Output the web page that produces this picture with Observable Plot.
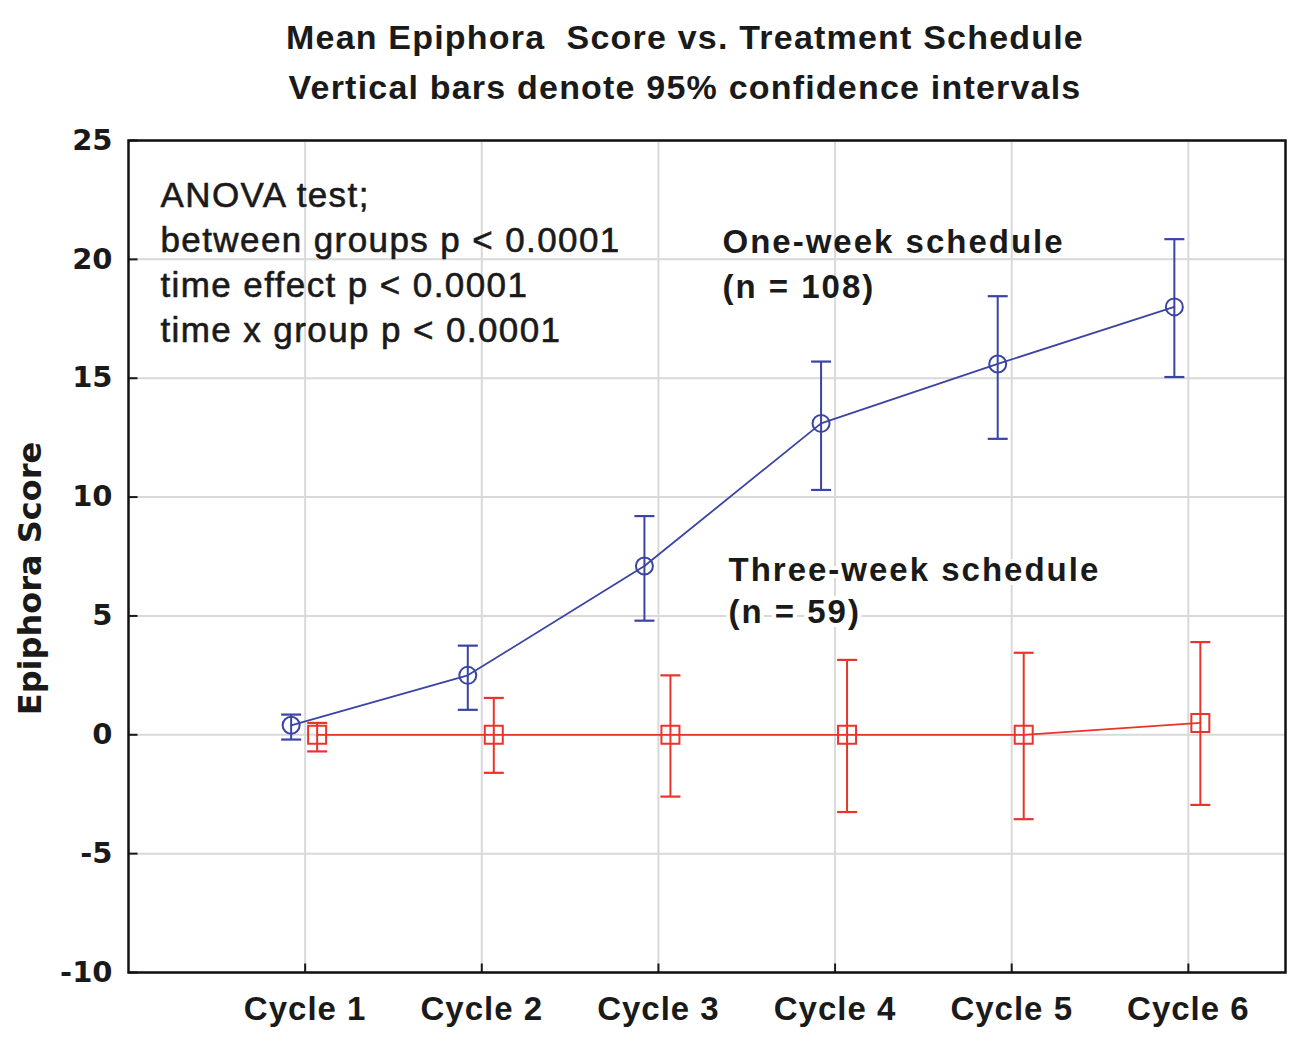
<!DOCTYPE html>
<html><head><meta charset="utf-8">
<script src="https://cdn.jsdelivr.net/npm/d3@7"></script>
<script src="https://cdn.jsdelivr.net/npm/@observablehq/plot@0.6"></script>
<style>
body{margin:0;background:#fff;}
#title{height:105px;width:1310px;box-sizing:border-box;padding-left:60px;padding-top:12px;text-align:center;font-family:"Liberation Sans",Arial,sans-serif;font-weight:bold;font-size:34px;letter-spacing:1.2px;color:#1a1a1a;overflow:hidden;}
#title div{height:50px;line-height:50px;white-space:nowrap;}
</style></head><body>
<div id="title"><div>Mean Epiphora&nbsp; Score vs. Treatment Schedule</div><div>Vertical bars denote 95% confidence intervals</div></div>
<div id="chart"></div>
<script>
const cycles = [1, 2, 3, 4, 5, 6];
const cycleLabels = ["Cycle 1", "Cycle 2", "Cycle 3", "Cycle 4", "Cycle 5", "Cycle 6"];
const oneWeekMean = [0.4, 2.5, 7.1, 13.1, 15.6, 18.0];
const oneWeekLow  = [-0.2, 1.05, 4.8, 10.3, 12.45, 15.05];
const oneWeekHigh = [0.85, 3.75, 9.2, 15.7, 18.45, 20.85];
const threeWeekMean = [0, 0, 0, 0, 0, 0.5];
const threeWeekLow  = [-0.7, -1.6, -2.6, -3.25, -3.55, -2.95];
const threeWeekHigh = [0.5, 1.55, 2.5, 3.15, 3.45, 3.9];
const yTicks = [-10, -5, 0, 5, 10, 15, 20, 25];
const annotation = "ANOVA test;\nbetween groups p < 0.0001\ntime effect p < 0.0001\ntime x group p < 0.0001";
const oneWeekLabel = "One-week schedule\n(n = 108)";
const threeWeekLabel = "Three-week schedule\n(n = 59)";

const oneWeek = cycles.map((c, i) => ({cycle: c, mean: oneWeekMean[i], low: oneWeekLow[i], high: oneWeekHigh[i]}));
const threeWeek = cycles.map((c, i) => ({cycle: c, mean: threeWeekMean[i], low: threeWeekLow[i], high: threeWeekHigh[i]}));

const ink = "#1a1a1a";
const blue = "#3a44a3";
const red = "#e8342a";
const cap = {draw(ctx) { ctx.moveTo(-10, 0); ctx.lineTo(10, 0); }};
const tickRight = {draw(ctx) { ctx.moveTo(0, 0); ctx.lineTo(9, 0); }};
const tickUp = {draw(ctx) { ctx.moveTo(0, 0); ctx.lineTo(0, -9); }};
const sq = {draw(ctx) { ctx.rect(-9, -9, 18, 18); }};

function series(data, color, dx, symbol, r) {
  return [
    Plot.ruleX(data, {x: "cycle", y1: "low", y2: "high", stroke: color, strokeWidth: 2, dx}),
    Plot.dot(data, {x: "cycle", y: "low", symbol: cap, stroke: color, fill: "none", strokeWidth: 2.2, dx}),
    Plot.dot(data, {x: "cycle", y: "high", symbol: cap, stroke: color, fill: "none", strokeWidth: 2.2, dx}),
    Plot.line(data, {x: "cycle", y: "mean", stroke: color, strokeWidth: 1.8, dx}),
    Plot.dot(data, {x: "cycle", y: "mean", symbol, r, stroke: color, fill: "none", strokeWidth: 2, dx})
  ];
}

const chart = Plot.plot({
  width: 1310,
  height: 953,
  marginTop: 35,
  marginBottom: 86,
  marginLeft: 128,
  marginRight: 25,
  style: {background: "#fff", color: ink},
  x: {type: "linear", domain: [0, 6.55]},
  y: {domain: [-10, 25]},
  marks: [
    Plot.gridY(yTicks, {stroke: "#d9d9d9", strokeOpacity: 1, strokeWidth: 2}),
    Plot.gridX(cycles, {stroke: "#d9d9d9", strokeOpacity: 1, strokeWidth: 2}),
    Plot.text([threeWeekLabel], {frameAnchor: "top-left", dx: 600, dy: 448, lineAnchor: "middle", textAnchor: "start", lineHeight: 42 / 33, fontSize: 33, fontWeight: "bold", fontFamily: "Liberation Sans", fill: "white", stroke: "white", strokeWidth: 8, className: "annot"}),
    Plot.dot(yTicks, {y: d => d, frameAnchor: "left", symbol: tickRight, stroke: ink, strokeWidth: 2}),
    Plot.dot(cycles, {x: d => d, frameAnchor: "bottom", symbol: tickUp, stroke: ink, strokeWidth: 2}),
    Plot.axisY(yTicks, {tickSize: 0, tickPadding: 16, fontSize: 29, fontWeight: "bold", fontFamily: "DejaVu Sans", tickFormat: d => String(d), label: null}),
    Plot.axisX(cycles, {tickSize: 0, tickPadding: 24, fontSize: 33, fontWeight: "bold", fontFamily: "Liberation Sans", tickFormat: d => cycleLabels[d - 1], label: null, className: "xlab"}),
    Plot.text(["Epiphora Score"], {frameAnchor: "left", dx: -98, dy: 22, rotate: -90, textAnchor: "middle", fontSize: 32, fontWeight: "bold", fontFamily: "DejaVu Sans"}),
    Plot.text([annotation], {frameAnchor: "top-left", dx: 32, dy: 120, lineAnchor: "middle", textAnchor: "start", lineHeight: 45 / 35, fontSize: 35, fontFamily: "Liberation Sans", fill: ink, stroke: ink, strokeWidth: 0.6, className: "annot1"}),
    Plot.text([oneWeekLabel], {frameAnchor: "top-left", dx: 594, dy: 121, lineAnchor: "middle", textAnchor: "start", lineHeight: 45 / 33, fontSize: 33, fontWeight: "bold", fontFamily: "Liberation Sans", fill: ink, className: "annot"}),
    Plot.text([threeWeekLabel], {frameAnchor: "top-left", dx: 600, dy: 448, lineAnchor: "middle", textAnchor: "start", lineHeight: 42 / 33, fontSize: 33, fontWeight: "bold", fontFamily: "Liberation Sans", fill: ink, className: "annot"}),
    ...series(oneWeek, blue, -14, "circle", 8.5),
    ...series(threeWeek, red, 12, sq, 9),
    Plot.frame({stroke: "#111", strokeWidth: 2.5})
  ]
});
d3.select(chart).selectAll(".annot text").style("letter-spacing", "2px");
d3.select(chart).selectAll(".annot1 text").style("letter-spacing", "1.4px");
d3.select(chart).selectAll(".xlab text").style("letter-spacing", "1px");
document.getElementById("chart").appendChild(chart);
</script>
</body></html>
